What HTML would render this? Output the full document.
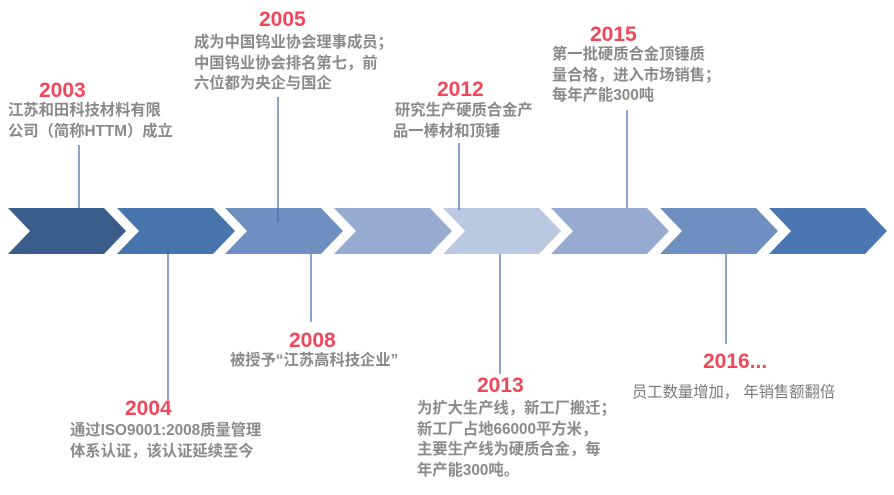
<!DOCTYPE html>
<html><head><meta charset="utf-8"><style>
body{margin:0;width:894px;height:495px;background:#fff;position:relative;overflow:hidden;font-family:"Liberation Sans","Noto Sans CJK SC",sans-serif}
.y{position:absolute;color:#f0485a;font-weight:bold;font-size:21px;line-height:22px}
.t{position:absolute;color:#8a8a8a;font-weight:bold;font-size:15.3px;line-height:20.5px;white-space:nowrap}
svg{position:absolute;left:0;top:0}
</style></head><body>
<svg width="894" height="495">
<g stroke="#4a72ad" stroke-width="1.3">
<line x1="79" y1="145" x2="79" y2="208"/>
<line x1="278" y1="97" x2="278" y2="222"/>
<line x1="459" y1="143" x2="459" y2="210"/>
<line x1="627" y1="110" x2="627" y2="208"/>
<line x1="168" y1="254" x2="168" y2="400"/>
<line x1="311" y1="254" x2="311" y2="322"/>
<line x1="500" y1="254" x2="500" y2="374"/>
<line x1="726" y1="254" x2="726" y2="344"/>
</g>
<g>
<polygon points="8,208 104,208 126,231 104,254 8,254 30,231" fill="#3a5d8b"/>
<polygon points="117,208 213,208 235,231 213,254 117,254 139,231" fill="#4774ad"/>
<polygon points="225,208 321,208 343,231 321,254 225,254 247,231" fill="#6f8fc0"/>
<polygon points="334,208 430,208 452,231 430,254 334,254 356,231" fill="#97abd1"/>
<polygon points="443,208 539,208 561,231 539,254 443,254 465,231" fill="#bac8e1"/>
<polygon points="551,208 647,208 669,231 647,254 551,254 573,231" fill="#97abd1"/>
<polygon points="660,208 756,208 778,231 756,254 660,254 682,231" fill="#6f8fc0"/>
<polygon points="769,208 865,208 887,231 865,254 769,254 791,231" fill="#4a76b2"/>
</g>
<g stroke="#4a72ad" stroke-width="1.3">
<line x1="278" y1="208" x2="278" y2="222"/>
<line x1="459" y1="208" x2="459" y2="210"/>
</g>
</svg>
<div class="y" style="left:39px;top:80px">2003</div>
<div class="t" style="left:8px;top:101px">江苏和田科技材料有限<br>公司（简称HTTM）成立</div>
<div class="y" style="left:259px;top:9px">2005</div>
<div class="t" style="left:194px;top:33px">成为中国钨业协会理事成员；<br>中国钨业协会排名第七，前<br>六位都为央企与国企</div>
<div class="y" style="left:437px;top:79px">2012</div>
<div class="t" style="left:395px;top:101px">研究生产硬质合金产<br><span style="margin-left:-2px">品一棒材和顶锤</span></div>
<div class="y" style="left:590px;top:24px">2015</div>
<div class="t" style="left:552px;top:45px">第一批硬质合金顶锤质<br>量合格，进入市场销售；<br>每年产能300吨</div>
<div class="y" style="left:289px;top:330px">2008</div>
<div class="t" style="left:230px;top:351px">被授予“江苏高科技企业”</div>
<div class="y" style="left:125px;top:398px">2004</div>
<div class="t" style="left:70px;top:421px">通过ISO9001:2008质量管理<br>体系认证，该认证延续至今</div>
<div class="y" style="left:477px;top:375px">2013</div>
<div class="t" style="left:417px;top:399px">为扩大生产线，新工厂搬迁；<br>新工厂占地66000平方米，<br>主要生产线为硬质合金，每<br>年产能300吨。</div>
<div class="y" style="left:703px;top:351px">2016...</div>
<div class="t" style="left:632px;top:383px;font-weight:normal;color:#7a7a7a">员工数量增加， 年销售额翻倍</div>
</body></html>
